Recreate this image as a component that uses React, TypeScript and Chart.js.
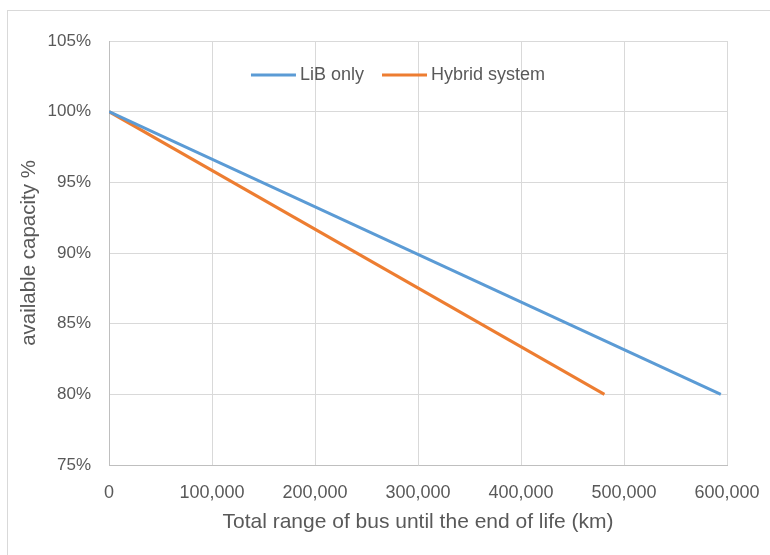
import React, { useEffect, useRef } from "react";
import { Chart, registerables } from "chart.js";

Chart.register(...registerables);

// Distance travelled (km) vs. remaining capacity (%)
const libOnlyKm = [0, 594000];
const libOnlyCapacity = [100, 80];
const hybridKm = [0, 481000];
const hybridCapacity = [100, 80];

const seriesNames = ["LiB only", "Hybrid system"];
const seriesColors = ["#5b9bd5", "#ed7d31"];

const xTickValues = [0, 100000, 200000, 300000, 400000, 500000, 600000];
const yTickValues = [75, 80, 85, 90, 95, 100, 105];

const FONT = "'Liberation Sans', Arial, sans-serif";
const TEXT = "#595959";

// Horizontal legend drawn inside the plot, near its top edge
const insideLegend = {
  id: "insideLegend",
  afterDraw(chart: any) {
    const ctx = chart.ctx;
    const datasets = chart.data.datasets;
    const lineW = 45;
    const gap = 4;
    const itemGap = 18;
    ctx.save();
    ctx.font = `18px ${FONT}`;
    const widths = datasets.map((d: any) => ctx.measureText(d.label).width);
    const total =
      widths.reduce((a: number, w: number) => a + lineW + gap + w, 0) + itemGap * (datasets.length - 1);
    const centerX = (chart.chartArea.left + chart.chartArea.right) / 2 - 20;
    const y = chart.chartArea.top + 34;
    let x = centerX - total / 2;
    datasets.forEach((d: any, i: number) => {
      ctx.strokeStyle = d.borderColor;
      ctx.lineWidth = 3;
      ctx.beginPath();
      ctx.moveTo(x, y);
      ctx.lineTo(x + lineW, y);
      ctx.stroke();
      x += lineW + gap;
      ctx.fillStyle = TEXT;
      ctx.textBaseline = "middle";
      ctx.textAlign = "left";
      ctx.fillText(d.label, x, y);
      x += widths[i] + itemGap;
    });
    ctx.restore();
  },
};

export default function App() {
  const ref = useRef<HTMLCanvasElement | null>(null);

  useEffect(() => {
    if (!ref.current) return;
    const toPoints = (xs: number[], ys: number[]) => xs.map((x, i) => ({ x, y: ys[i] }));
    const chart = new Chart(ref.current, {
      type: "scatter",
      data: {
        datasets: [
          {
            label: seriesNames[0],
            data: toPoints(libOnlyKm, libOnlyCapacity),
            showLine: true,
            borderColor: seriesColors[0],
            backgroundColor: seriesColors[0],
            borderWidth: 3,
            pointRadius: 0,
          },
          {
            label: seriesNames[1],
            data: toPoints(hybridKm, hybridCapacity),
            showLine: true,
            borderColor: seriesColors[1],
            backgroundColor: seriesColors[1],
            borderWidth: 3,
            pointRadius: 0,
          },
        ],
      },
      options: {
        responsive: false,
        animation: false,
        layout: { padding: { top: 41, right: 43, left: 0, bottom: 0 } },
        plugins: {
          tooltip: { enabled: false },
          legend: { display: false },
        },
        scales: {
          x: {
            type: "linear",
            min: 0,
            max: 600000,
            afterBuildTicks: (s: any) => {
              s.ticks = xTickValues.map((v) => ({ value: v }));
            },
            afterFit: (s: any) => {
              s.height = 90;
              s.paddingLeft = 0;
              s.paddingRight = 0;
            },
            grid: { color: "#d9d9d9", lineWidth: 1, drawTicks: false },
            border: { color: "#bfbfbf", width: 1 },
            ticks: {
              padding: 17,
              color: TEXT,
              maxRotation: 0,
              font: { family: FONT, size: 18 },
              callback: (v: any) => Number(v).toLocaleString("en-US"),
            },
            title: {
              display: true,
              text: "Total range of bus until the end of life (km)",
              color: TEXT,
              font: { family: FONT, size: 21 },
              padding: { top: 0, bottom: 20 },
            },
          },
          y: {
            type: "linear",
            min: 75,
            max: 105,
            afterBuildTicks: (s: any) => {
              s.ticks = yTickValues.map((v) => ({ value: v }));
            },
            afterFit: (s: any) => {
              s.width = 109;
              s.paddingTop = 0;
              s.paddingBottom = 0;
            },
            grid: { color: "#d9d9d9", lineWidth: 1, drawTicks: false },
            border: { color: "#bfbfbf", width: 1 },
            ticks: {
              padding: 18,
              color: TEXT,
              font: { family: FONT, size: 17 },
              callback: (v: any) => v + "%",
            },
            title: {
              display: true,
              text: "available capacity %",
              color: TEXT,
              font: { family: FONT, size: 20.5 },
              padding: { top: 17, bottom: 0 },
            },
          },
        },
      },
      plugins: [insideLegend],
    });
    return () => chart.destroy();
  }, []);

  return (
    <div style={{ position: "fixed", left: 0, top: 0, width: 770, height: 555, background: "#fff" }}>
      <div
        style={{
          position: "absolute",
          left: 7,
          top: 10,
          width: 800,
          height: 600,
          border: "1px solid #d9d9d9",
          boxSizing: "border-box",
        }}
      />
      <canvas ref={ref} width={770} height={555} style={{ position: "absolute", left: 0, top: 0 }} />
    </div>
  );
}
